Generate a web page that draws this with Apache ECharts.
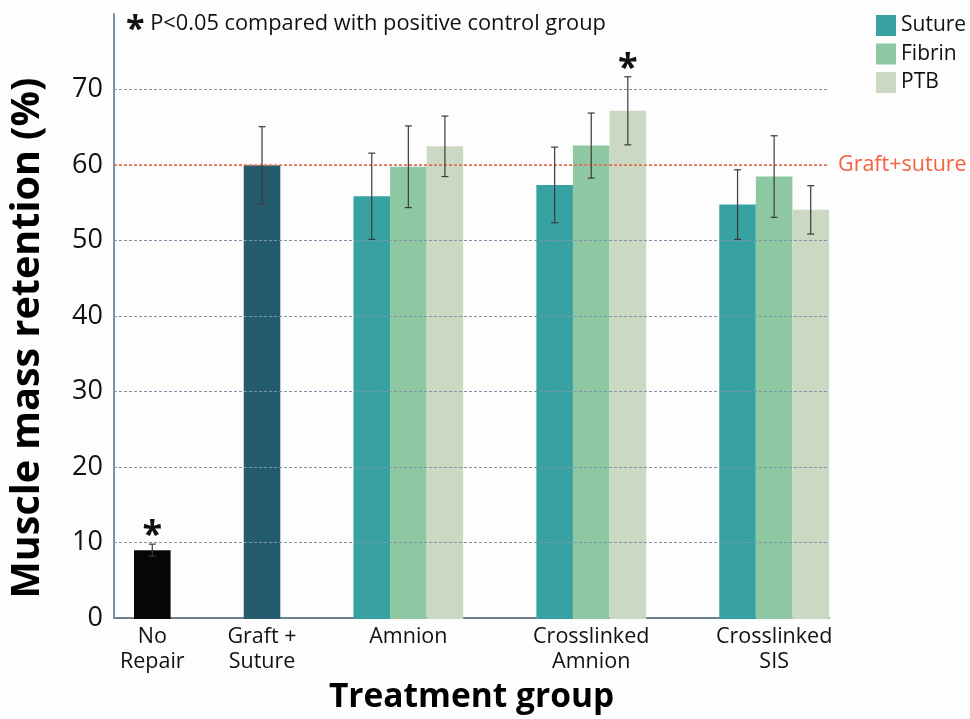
<!DOCTYPE html>
<html>
<head>
<meta charset="utf-8">
<script src="https://cdn.jsdelivr.net/npm/echarts@6/dist/echarts.min.js"></script>
<style>html,body{margin:0;padding:0;background:#fdfdfe;}#chart{width:970px;height:719px;}</style>
</head>
<body>
<div id="chart"></div>
<script>
// ---- data ----
const categories = ['No\nRepair', 'Graft +\nSuture', 'Amnion', 'Crosslinked\nAmnion', 'Crosslinked\nSIS'];
// control groups (No Repair, Graft + Suture)
const controlMean = [9.1, 60.0];
const controlErr = [0.8, 5.1];
const controlSig = [1, 0];
// treatment groups (Amnion, Crosslinked Amnion, Crosslinked SIS)
const seriesNames = ['Suture', 'Fibrin', 'PTB'];
const sutureMean = [55.9, 57.4, 54.8];
const sutureErr = [5.7, 5.0, 4.6];
const fibrinMean = [59.8, 62.6, 58.5];
const fibrinErr = [5.4, 4.3, 5.4];
const ptbMean = [62.5, 67.2, 54.1];
const ptbErr = [4.0, 4.5, 3.2];
const ptbSig = [0, 1, 0];
const yTicks = [0, 10, 20, 30, 40, 50, 60, 70];
const noteText = 'P<0.05 compared with positive control group';
const refLineLabel = 'Graft+suture';

// ---- layout of slots ----
const GAP = 2;
const nControl = controlMean.length;
const groupStart = [];
let s = 0;
categories.forEach((c, i) => { groupStart.push(s); s += (i < nControl ? 1 : seriesNames.length) + GAP; });
const nSlots = s - GAP;
const slotLabels = new Array(nSlots).fill('');
categories.forEach((c, i) => {
  const size = i < nControl ? 1 : seriesNames.length;
  slotLabels[groupStart[i] + Math.floor(size / 2)] = c;
});

const FONT = '"Open Sans", sans-serif';
const controlColors = ['#060606', '#245b6d'];
const seriesColors = ['#38a2a2', '#8ec8a3', '#cbd8c2'];

function emptySlots() { return new Array(nSlots).fill(null); }

const controlData = emptySlots();
controlMean.forEach((v, i) => { controlData[groupStart[i]] = { value: v, itemStyle: { color: controlColors[i] } }; });

const means = [sutureMean, fibrinMean, ptbMean];
const errs = [sutureErr, fibrinErr, ptbErr];
const sigs = [[0, 0, 0], [0, 0, 0], ptbSig];

const errData = [];
controlMean.forEach((v, i) => errData.push([groupStart[i], v, controlErr[i], controlSig[i]]));

const barSeries = seriesNames.map((name, k) => {
  const d = emptySlots();
  means[k].forEach((v, j) => {
    const slot = groupStart[nControl + j] + k;
    d[slot] = v;
    errData.push([slot, v, errs[k][j], sigs[k][j]]);
  });
  return {
    name: name, type: 'bar', xAxisIndex: 0, yAxisIndex: 0,
    data: d, barGap: '-100%', barCategoryGap: '0%',
    itemStyle: { color: seriesColors[k] }, z: 2
  };
});

function renderError(params, api) {
  const x = api.value(0), m = api.value(1), e = api.value(2), sig = api.value(3);
  const top = api.coord([x, m + e]);
  const bot = api.coord([x, m - e]);
  const cap = 3.5;
  const st = { stroke: '#3b3b3b', lineWidth: 1.2 };
  const children = [
    { type: 'line', shape: { x1: top[0], y1: top[1], x2: bot[0], y2: bot[1] }, style: st },
    { type: 'line', shape: { x1: top[0] - cap, y1: top[1], x2: top[0] + cap, y2: top[1] }, style: st },
    { type: 'line', shape: { x1: bot[0] - cap, y1: bot[1], x2: bot[0] + cap, y2: bot[1] }, style: st }
  ];
  if (sig) {
    children.push({ type: 'text', style: { text: '*', x: top[0], y: top[1] + 10, align: 'center', verticalAlign: 'bottom', font: 'bold 36px "Open Sans"', fill: '#111' } });
  }
  return { type: 'group', children: children };
}

const chart = echarts.init(document.getElementById('chart'));
chart.setOption({
  backgroundColor: '#fdfdfe',
  animation: false,
  title: {
    text: '{star|*}{t| ' + noteText + '}',
    left: 121, top: -4,
    textStyle: {
      rich: {
        star: { fontSize: 34, fontWeight: 'bold', color: '#111', fontFamily: FONT, padding: [12, 0, 0, 0] },
        t: { fontSize: 21.8, fontWeight: 'normal', color: '#111', fontFamily: FONT }
      }
    }
  },
  legend: {
    data: seriesNames, orient: 'vertical', left: 871, top: 10,
    itemWidth: 20, itemHeight: 21, itemGap: 7.5, icon: 'rect',
    textStyle: { fontSize: 21, color: '#111', fontFamily: FONT, padding: [0, 0, 0, 0] }
  },
  grid: [
    { left: 134, right: 141, top: 14, bottom: 100 },
    { left: 114, right: 141, top: 14, bottom: 100 }
  ],
  xAxis: [
    {
      type: 'category', gridIndex: 0, data: slotLabels,
      axisLine: { show: false }, axisTick: { show: false },
      axisLabel: { interval: 0, fontSize: 21.5, lineHeight: 25, color: '#111', fontFamily: FONT, margin: 5 }
    },
    {
      type: 'value', gridIndex: 1, min: 0, max: 1,
      axisLine: { show: true, lineStyle: { color: '#6b8194', width: 2 } },
      axisTick: { show: false }, axisLabel: { show: false }, splitLine: { show: false },
      name: 'Treatment group', nameLocation: 'middle', nameGap: 62,
      nameTextStyle: { fontSize: 33.5, fontWeight: 'bold', color: '#000', fontFamily: FONT }
    }
  ],
  yAxis: [
    { type: 'value', gridIndex: 0, min: 0, max: 80, show: false, splitLine: { show: false } },
    {
      type: 'value', gridIndex: 1, min: 0, max: 80, interval: 10, z: 3,
      axisLine: { show: true, lineStyle: { color: '#7b93a7', width: 2 } },
      axisTick: { show: false },
      axisLabel: {
        fontSize: 27, color: '#111', fontFamily: FONT, margin: 11,
        formatter: v => yTicks.indexOf(v) >= 0 ? String(v) : ''
      },
      splitLine: { show: true, showMinLine: false, showMaxLine: false, lineStyle: { color: '#7f94a8', type: [3, 2], width: 1 } },
      name: 'Muscle mass retention (%)', nameLocation: 'middle', nameGap: 66,
      nameTextStyle: { fontSize: 39.5, fontWeight: 'bold', color: '#000', fontFamily: FONT, padding: [0, 44, 0, 0] }
    }
  ],
  series: [
    {
      name: 'Control', type: 'bar', xAxisIndex: 0, yAxisIndex: 0,
      data: controlData, barGap: '-100%', barCategoryGap: '0%', z: 2
    },
    ...barSeries,
    {
      name: 'ref', type: 'line', xAxisIndex: 1, yAxisIndex: 1, data: [], silent: true, z: 8,
      markLine: {
        silent: true, symbol: 'none',
        lineStyle: { color: '#f2694a', type: [3, 2], width: 1.5 },
        label: { show: true, position: 'end', formatter: refLineLabel, fontSize: 21.5, color: '#f4623e', fontFamily: FONT, distance: 9 },
        data: [{ yAxis: controlMean[1] }]
      }
    },
    {
      name: 'err', type: 'custom', xAxisIndex: 0, yAxisIndex: 0, data: errData,
      renderItem: renderError, encode: { x: 0, y: 1 }, z: 10, silent: true
    }
  ]
});
</script>
</body>
</html>
